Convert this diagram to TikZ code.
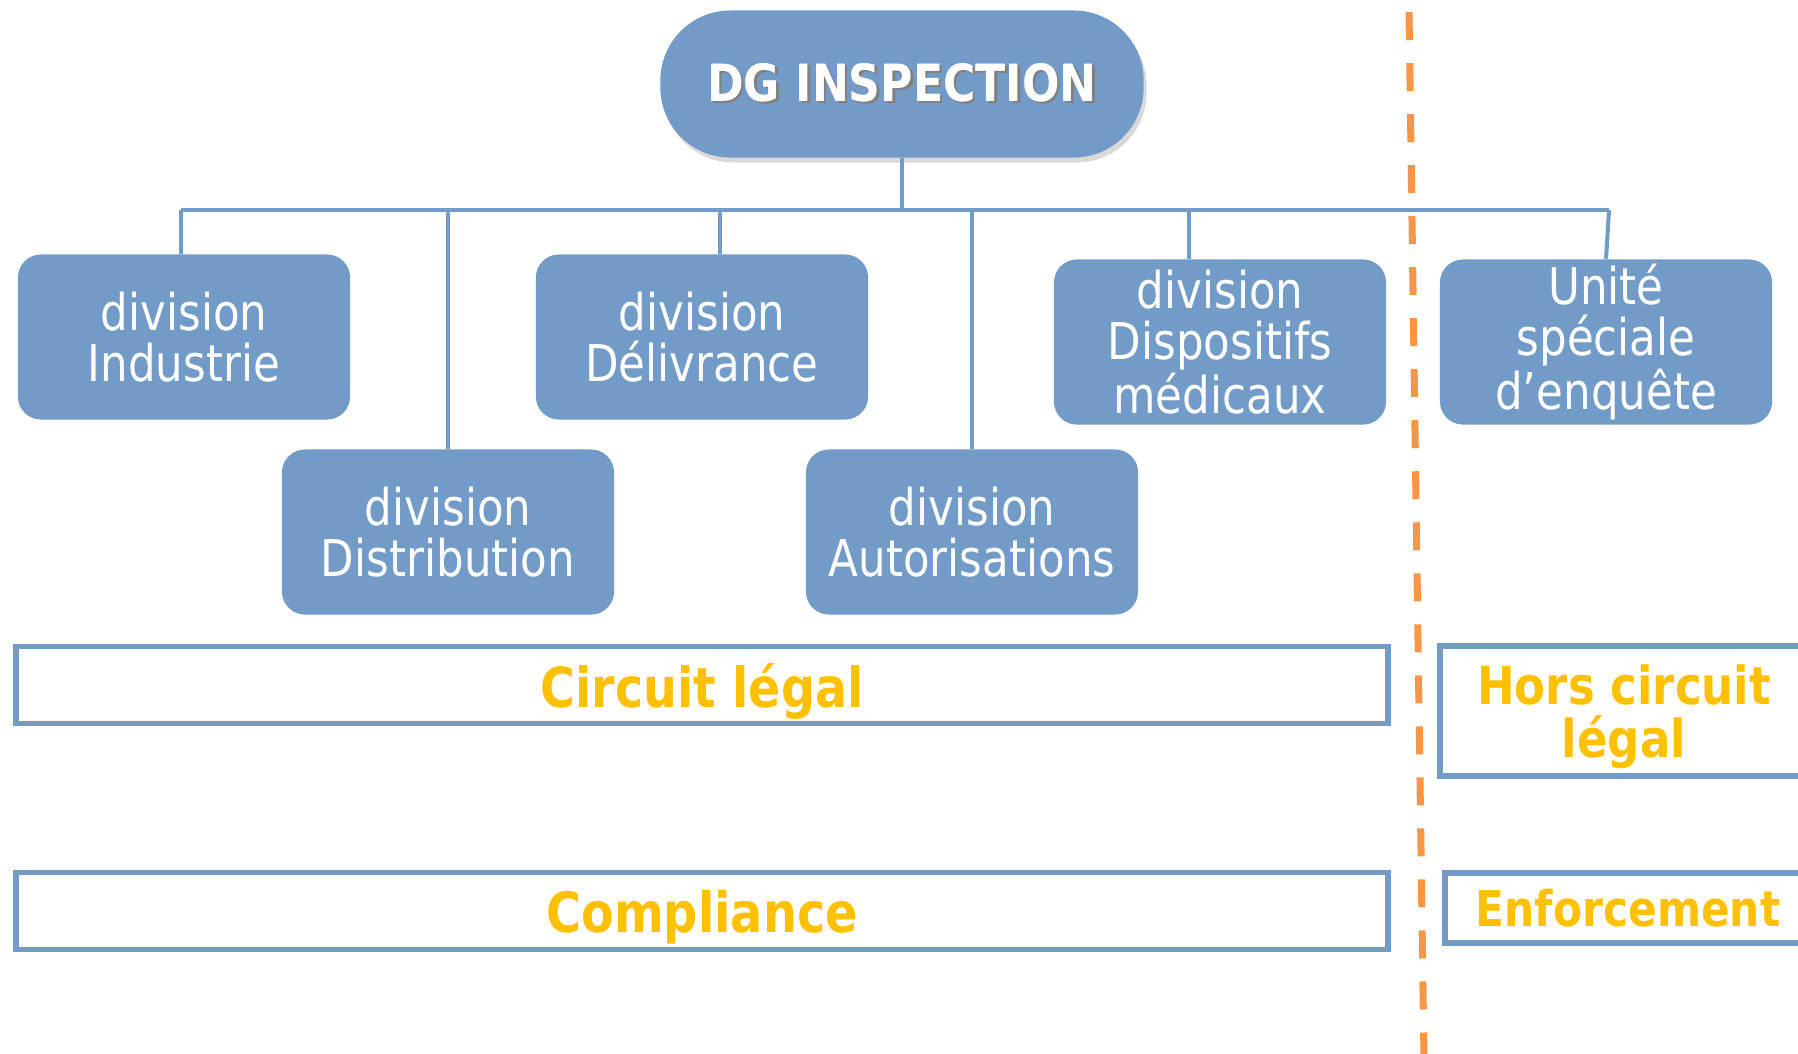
\documentclass[tikz,border=0pt]{standalone}
\usepackage{fontspec}
\setmainfont[FakeStretch=0.86]{DejaVu Sans}
\usetikzlibrary{shadows}

\definecolor{boxblue}{RGB}{114,155,199}
\definecolor{lineorange}{RGB}{247,150,70}
\definecolor{labelyellow}{RGB}{255,192,0}
\newcommand{\shadowtxt}[1]{\makebox[0pt][l]{\hspace{0.7pt}\raisebox{-0.7pt}{\color{black!50}#1}}#1}

\begin{document}
\begin{tikzpicture}[x=0.01cm, y=-0.01cm,
    division/.style={fill=boxblue, rounded corners=0.23cm, text=white, align=center,
        minimum width=3.32cm, minimum height=1.65cm, inner sep=0pt,
        font=\fontsize{14.4}{14.5}\selectfont},
    bandbox/.style={draw=boxblue, line width=1.6pt, text=labelyellow, align=center, inner sep=0pt, text depth=0pt},
    conn/.style={draw=boxblue, line width=1.15pt},
    splitline/.style={draw=lineorange, line width=2pt, dash pattern=on 0.28cm off 0.23cm}]

    \useasboundingbox (0,0) rectangle (1798,1053);
    \clip (0,0) rectangle (1798,1053);

    \node (DG) [fill=boxblue, rounded corners=0.7cm, minimum width=4.83cm, minimum height=1.47cm,
        text=white, font=\bfseries\fontsize{14.6}{16}\selectfont,
        drop shadow={opacity=0.3, shadow xshift=0.03cm, shadow yshift=-0.05cm}] at (902,84) {\shadowtxt{DG INSPECTION}};

    \node (DIV_IND)  [division] at (184,337)  {division\\Industrie};
    \node (DIV_DEL)  [division] at (702,337)  {division\\Délivrance};
    \node (DIV_DM)   [division] at (1220,342) {division\\Dispositifs\\médicaux};
    \node (USE)      [division] at (1606,342) {Unité\\spéciale\\d’enquête};
    \node (DIV_DIST) [division] at (448,532)  {division\\Distribution};
    \node (DIV_AUT)  [division] at (972,532)  {division\\Autorisations};

    \coordinate (BUS_L) at (181,210);
    \coordinate (BUS_R) at (1609,210);
    \coordinate (DROP_DEL) at (720,210);
    \coordinate (DROP_DM) at (1189,210);

    \draw [conn] (DG.south) -- (DG.south |- BUS_L);
    \draw [conn] (BUS_L) -- (BUS_R);
    \draw [conn] (BUS_L) -- (DIV_IND.north -| BUS_L);
    \draw [conn] (DIV_DIST.north |- BUS_L) -- (DIV_DIST.north);
    \draw [conn] (DROP_DEL) -- (DROP_DEL |- DIV_DEL.north);
    \draw [conn] (DIV_AUT.north |- BUS_L) -- (DIV_AUT.north);
    \draw [conn] (DROP_DM) -- (DROP_DM |- DIV_DM.north);
    \draw [conn] (BUS_R) -- (USE.north);

    \node (CL)    [bandbox, minimum width=13.71cm, minimum height=0.77cm,
        font=\bfseries\fontsize{15.7}{18}\selectfont] at (702,685) {Circuit légal};
    \node (COMPL) [bandbox, minimum width=13.71cm, minimum height=0.77cm,
        font=\bfseries\fontsize{15.8}{18}\selectfont] at (702,911) {Compliance};
    \node (HCL)   [bandbox, minimum width=3.68cm, minimum height=1.30cm,
        font=\bfseries\fontsize{14.9}{15}\selectfont] at (1624,711) {Hors circuit\\légal};
    \node (ENF)   [bandbox, minimum width=3.66cm, minimum height=0.70cm,
        font=\bfseries\fontsize{14}{16}\selectfont] at (1628,908) {Enforcement};

    % separation circuit legal / hors circuit
    \coordinate (SEP_TOP) at (1409,12);
    \coordinate (SEP_BOT) at (1424,1060);
    \draw [splitline] (SEP_TOP) -- (SEP_BOT);

\end{tikzpicture}
\end{document}
